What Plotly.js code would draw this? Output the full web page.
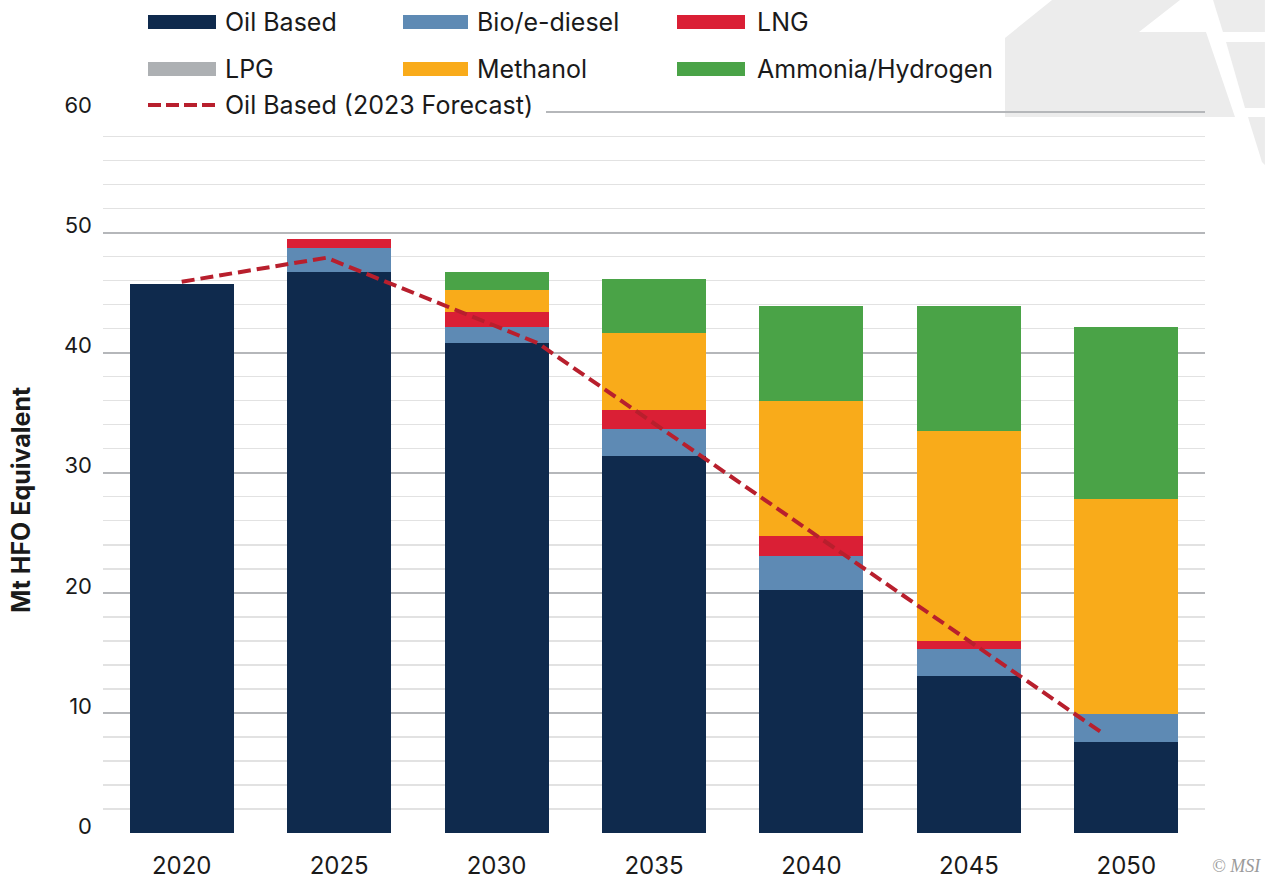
<!DOCTYPE html>
<html>
<head>
<meta charset="utf-8">
<script src="https://cdn.plot.ly/plotly-3.0.1.min.js"></script>
<style>
  html, body { margin: 0; padding: 0; background: #ffffff; }
  #chart { width: 1265px; height: 881px; }
</style>
</head>
<body>
<div id="chart"></div>
<script>
// ---- data ----
const years = [2020, 2025, 2030, 2035, 2040, 2045, 2050];
const oilBased = [45.7, 46.7, 40.8, 31.4, 20.2, 13.1, 7.55];
const bioEDiesel = [0, 2.0, 1.3, 2.2, 2.85, 2.25, 2.4];
const lng = [0, 0.75, 1.25, 1.6, 1.65, 0.6, 0];
const lpg = [0, 0, 0, 0, 0, 0, 0];
const methanol = [0, 0, 1.9, 6.4, 11.25, 17.5, 17.9];
const ammoniaHydrogen = [0, 0, 1.5, 4.5, 7.9, 10.4, 14.25];

const forecastYears = [2020, 2024.6, 2031.3, 2049.2];
const forecastOil = [45.9, 47.9, 40.8, 8.4];

const tickYears = ['2020', '2025', '2030', '2035', '2040', '2045', '2050'];
const seriesNames = ['Oil Based', 'Bio/e-diesel', 'LNG', 'LPG', 'Methanol', 'Ammonia/Hydrogen'];
const forecastName = 'Oil Based (2023 Forecast)';
const yTitle = 'Mt HFO Equivalent';

// ---- styling ----
const FONT = 'Inter, "Noto Sans", sans-serif';
const seriesColors = ['#0f2a4d', '#5e8ab4', '#da1f35', '#adb0b3', '#f9ab1a', '#4aa347'];
const forecastColor = '#b81f2d';
const seriesValues = [oilBased, bioEDiesel, lng, lpg, methanol, ammoniaHydrogen];

const traces = seriesNames.map((name, i) => ({
  type: 'bar', name: name, x: years, y: seriesValues[i], width: 3.3,
  marker: { color: seriesColors[i], line: { width: 0 } }, showlegend: false
}));
traces.push({
  type: 'scatter', mode: 'lines', name: forecastName,
  x: forecastYears, y: forecastOil, showlegend: false,
  line: { color: forecastColor, width: 4, dash: '13px,6px' }
});

// plot area geometry in pixels (for decoration / legend placement)
const L = 103, R = 1205, T = 110, B = 833;
const px = x => (x - L) / (R - L);
const py = y => (B - y) / (B - T);
function poly(pts) {
  return pts.map((p, i) => (i ? 'L' : 'M') + px(p[0]).toFixed(4) + ',' + py(p[1]).toFixed(4)).join(' ') + ' Z';
}
const wm = '#ececec';
const shapes = [
  { type: 'path', xref: 'paper', yref: 'paper', layer: 'below', fillcolor: wm, line: { width: 0 },
    path: poly([[1005, 38], [1052, 0], [1180, 0], [1139, 32], [1206, 32], [1235, 117], [1005, 117]]) },
  { type: 'path', xref: 'paper', yref: 'paper', layer: 'below', fillcolor: wm, line: { width: 0 },
    path: poly([[1213, 0], [1265, 0], [1265, 32], [1223, 32]]) },
  { type: 'path', xref: 'paper', yref: 'paper', layer: 'below', fillcolor: wm, line: { width: 0 },
    path: poly([[1226, 42], [1265, 42], [1265, 108], [1245, 108]]) },
  { type: 'path', xref: 'paper', yref: 'paper', layer: 'below', fillcolor: wm, line: { width: 0 },
    path: poly([[1248, 117], [1265, 117], [1265, 165], [1262, 162]]) },
  // white cover hiding the top gridline behind the third legend row
  { type: 'rect', xref: 'paper', yref: 'paper', layer: 'above', fillcolor: '#ffffff', line: { width: 0 },
    x0: px(100), x1: px(546), y0: py(117), y1: py(106) }
];
const annotations = [];

// ---- legend (swatch + label), laid out like the reference ----
const legSymX = [148, 403, 677];
const legSymW = [68, 65, 68];
const legTextX = [223, 475, 755];
const legRowY = [22, 69];
const legFont = { family: FONT, size: 25, color: '#1a1a1a' };
seriesNames.forEach((name, i) => {
  const c = i % 3, r = Math.floor(i / 3);
  const yc = legRowY[r];
  shapes.push({ type: 'rect', xref: 'paper', yref: 'paper', layer: 'above',
    fillcolor: seriesColors[i], line: { width: 0 },
    x0: px(legSymX[c]), x1: px(legSymX[c] + legSymW[c]), y0: py(yc + 7), y1: py(yc - 7) });
  annotations.push({ xref: 'paper', yref: 'paper', x: px(legTextX[c]), y: py(yc),
    xanchor: 'left', yanchor: 'middle', showarrow: false, text: name, font: legFont });
});
shapes.push({ type: 'line', xref: 'paper', yref: 'paper', layer: 'above',
  x0: px(148), x1: px(216), y0: py(105), y1: py(105),
  line: { color: forecastColor, width: 4, dash: '13px,5px' } });
annotations.push({ xref: 'paper', yref: 'paper', x: px(223), y: py(105),
  xanchor: 'left', yanchor: 'middle', showarrow: false, text: forecastName, font: legFont });

// y-axis title placed where the reference has it
annotations.push({ xref: 'paper', yref: 'paper', x: px(21), y: py(500), xanchor: 'center', yanchor: 'middle',
  textangle: -90, showarrow: false, text: yTitle,
  font: { family: FONT, size: 25, color: '#1a1a1a', weight: 'bold' } });

annotations.push({ xref: 'paper', yref: 'paper', x: px(1263), y: py(866), xanchor: 'right', yanchor: 'middle',
  text: '© MSI', showarrow: false,
  font: { family: '"Liberation Serif", serif', size: 18, color: '#9a9a9a', style: 'italic' } });

const layout = {
  width: 1265, height: 881,
  margin: { l: L, r: 1265 - R, t: T, b: 881 - B, autoexpand: false },
  paper_bgcolor: '#ffffff', plot_bgcolor: 'rgba(0,0,0,0)',
  font: { family: FONT, color: '#1a1a1a', size: 21 },
  barmode: 'stack',
  showlegend: false,
  xaxis: {
    type: 'linear', range: [2017.5, 2052.5], tickmode: 'array',
    tickvals: years, ticktext: tickYears, showgrid: false, zeroline: false,
    showline: false, ticks: '', ticklabelstandoff: 16,
    tickfont: { family: FONT, size: 24, color: '#1a1a1a' }
  },
  yaxis: {
    range: [0, 60.2], tickmode: 'linear', tick0: 0, dtick: 10,
    showgrid: true, gridcolor: '#b5b7ba', gridwidth: 2,
    zeroline: false, showline: false, ticks: '', ticklabelstandoff: 10, ticklabelshift: -7,
    minor: { dtick: 2, showgrid: true, gridcolor: '#e2e2e2', gridwidth: 1.5 },
    tickfont: { family: FONT, size: 22, color: '#1a1a1a' }
  },
  shapes: shapes,
  annotations: annotations
};

Plotly.newPlot('chart', traces, layout, { displayModeBar: false, staticPlot: true });
</script>
</body>
</html>
